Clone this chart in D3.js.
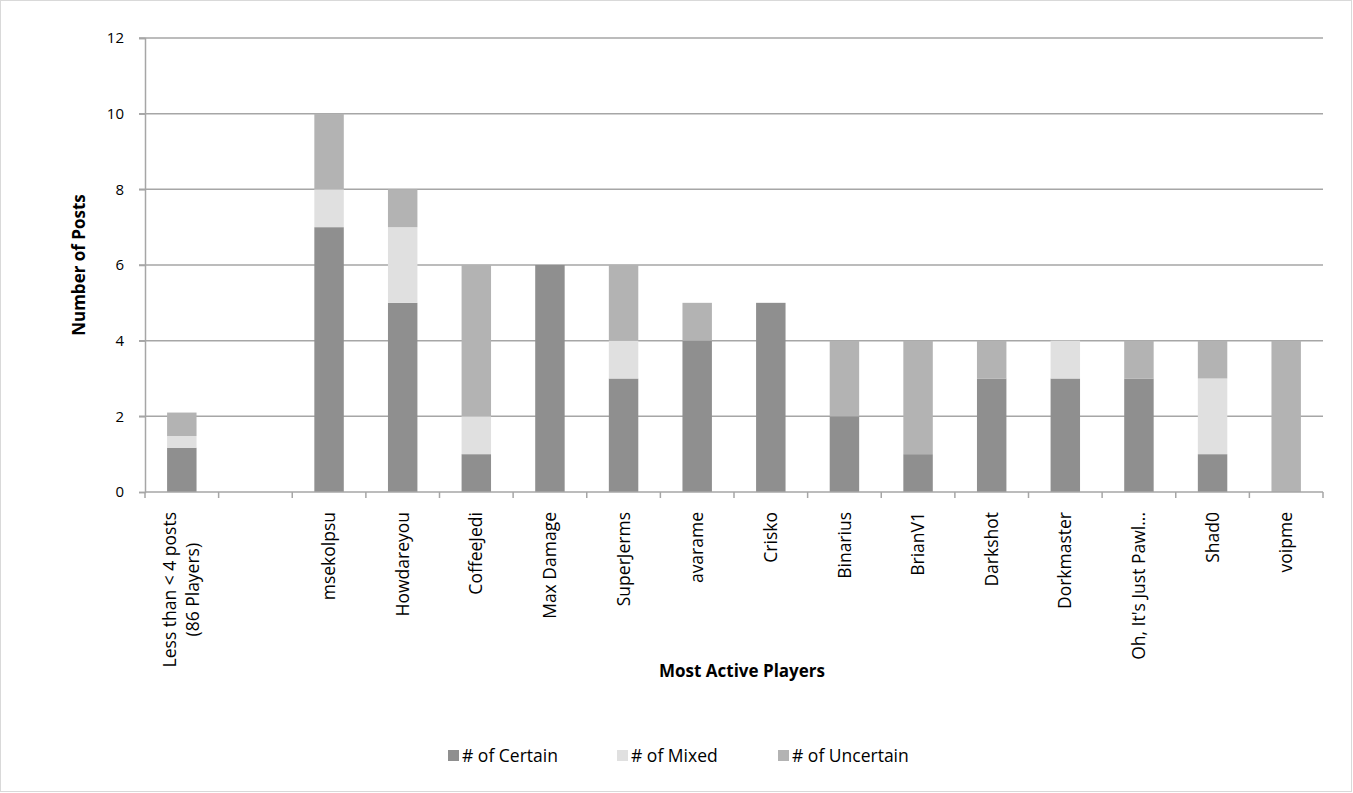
<!DOCTYPE html>
<html lang="en">
<head>
  <meta charset="UTF-8">
  <title>Most Active Players</title>
  <style>
    body { margin: 0; background: #fff; overflow: hidden; }
    svg { font-family: "Open Sans", "Liberation Sans", sans-serif; }
    .grid line { stroke: #a6a6a6; stroke-width: 1.5px; }
  </style>
</head>
<body>
  <script src="https://d3js.org/d3.v7.min.js"></script>
  <script>
    const width = 1353;
    const height = 793;

    const players = ["Less than < 4 posts\n(86 Players)", "", "msekolpsu", "Howdareyou", "CoffeeJedi",
      "Max Damage", "SuperJerms", "avarame", "Crisko", "Binarius", "BrianV1", "Darkshot",
      "Dorkmaster", "Oh, It's Just Pawl...", "Shad0", "voipme"];
    const certain   = [1.17, 0, 7, 5, 1, 6, 3, 4, 5, 2, 1, 3, 3, 3, 1, 0];
    const mixed     = [0.31, 0, 1, 2, 1, 0, 1, 0, 0, 0, 0, 0, 1, 0, 2, 0];
    const uncertain = [0.62, 0, 2, 1, 4, 0, 2, 1, 0, 2, 3, 1, 0, 1, 1, 4];
    const seriesNames = ["# of Certain", "# of Mixed", "# of Uncertain"];
    const colors = ["#8f8f8f", "#e0e0e0", "#b3b3b3"];
    const yTicks = [0, 2, 4, 6, 8, 10, 12];

    const margin = { left: 145, right: 30, top: 38, bottom: 301 };
    const labelFont = "17.5px";

    const svg = d3.select("body").append("svg")
      .attr("width", width)
      .attr("height", height);

    const x = d3.scaleBand()
      .domain(d3.range(players.length))
      .range([margin.left, width - margin.right])
      .paddingInner(0.6)
      .paddingOuter(0.3);

    const y = d3.scaleLinear()
      .domain([0, 12])
      .range([height - margin.bottom, margin.top]);

    // grid lines
    svg.append("g")
      .attr("class", "grid")
      .selectAll("line")
      .data(yTicks.slice(1))
      .enter()
      .append("line")
      .attr("x1", margin.left - 6)
      .attr("x2", width - margin.right)
      .attr("y1", d => y(d))
      .attr("y2", d => y(d));

    // stacked bars
    const rows = players.map((p, i) => ({ i: i, c: certain[i], m: mixed[i], u: uncertain[i] }));
    const layers = d3.stack().keys(["c", "m", "u"])(rows);

    svg.append("g")
      .selectAll("g")
      .data(layers)
      .enter()
      .append("g")
      .attr("fill", (d, i) => colors[i])
      .selectAll("rect")
      .data(d => d)
      .enter()
      .append("rect")
      .attr("x", d => x(d.data.i))
      .attr("width", x.bandwidth())
      .attr("y", d => y(d[1]))
      .attr("height", d => y(d[0]) - y(d[1]));

    // y axis
    const yAxis = svg.append("g")
      .attr("transform", `translate(${margin.left},0)`)
      .call(d3.axisLeft(y).tickValues(yTicks).tickSize(6).tickPadding(15));
    yAxis.attr("font-family", null).attr("font-size", null);
    yAxis.select(".domain").attr("stroke", "#a6a6a6").attr("stroke-width", 1.5);
    yAxis.selectAll(".tick line").attr("stroke", "#a6a6a6").attr("stroke-width", 1.5);
    yAxis.selectAll(".tick text").style("font-size", "15px").attr("fill", "#000");

    // x axis line and boundary ticks
    const step = x.step();
    const x0 = margin.left;
    const bottomY = y(0);
    svg.append("line")
      .attr("x1", x0).attr("x2", width - margin.right)
      .attr("y1", bottomY).attr("y2", bottomY)
      .attr("stroke", "#a6a6a6").attr("stroke-width", 1.5);
    svg.append("g")
      .selectAll("line")
      .data(d3.range(players.length + 1))
      .enter()
      .append("line")
      .attr("x1", d => x0 + d * step)
      .attr("x2", d => x0 + d * step)
      .attr("y1", bottomY)
      .attr("y2", bottomY + 6)
      .attr("stroke", "#a6a6a6").attr("stroke-width", 1.5);

    // category labels, rotated
    const labels = svg.append("g")
      .selectAll("text")
      .data(players)
      .enter()
      .append("text")
      .attr("transform", (d, i) => `translate(${x(i) + x.bandwidth() / 2},${bottomY + 20}) rotate(-90)`)
      .style("font-size", labelFont);
    labels.each(function(d) {
      const lines = d.split("\n");
      const t = d3.select(this);
      if (lines.length === 1) {
        t.attr("text-anchor", "end").attr("dy", "0.35em").text(d);
        return;
      }
      const spans = lines.map((l, k) => t.append("tspan")
        .attr("text-anchor", "middle")
        .attr("y", (k - (lines.length - 1) / 2) * 23)
        .attr("dy", "0.35em")
        .text(l));
      const maxLen = d3.max(spans, s => s.node().getComputedTextLength());
      spans.forEach(s => s.attr("x", -maxLen / 2));
    });

    // axis titles
    svg.append("text")
      .attr("transform", `translate(79,${(margin.top + bottomY) / 2}) rotate(-90)`)
      .attr("text-anchor", "middle")
      .attr("dy", "0.35em")
      .style("font-size", "17px")
      .style("font-weight", "bold")
      .text("Number of Posts");

    svg.append("text")
      .attr("x", 742)
      .attr("y", 677)
      .attr("text-anchor", "middle")
      .style("font-size", "17px")
      .style("font-weight", "bold")
      .text("Most Active Players");

    // legend
    const legendX = [448, 617, 778];
    const legend = svg.append("g")
      .selectAll("g")
      .data(seriesNames)
      .enter()
      .append("g")
      .attr("transform", (d, i) => `translate(${legendX[i]},756)`);
    legend.append("rect")
      .attr("x", 0).attr("y", -6)
      .attr("width", 11).attr("height", 11)
      .attr("fill", (d, i) => colors[i]);
    legend.append("text")
      .attr("x", 14).attr("y", 0)
      .attr("dy", "0.35em")
      .style("font-size", "17.5px")
      .text(d => d);

    // outer border
    svg.append("rect")
      .attr("x", 0.5).attr("y", 0.5)
      .attr("width", width - 2).attr("height", height - 2)
      .attr("fill", "none")
      .attr("stroke", "#d9d9d9");
  </script>
</body>
</html>
